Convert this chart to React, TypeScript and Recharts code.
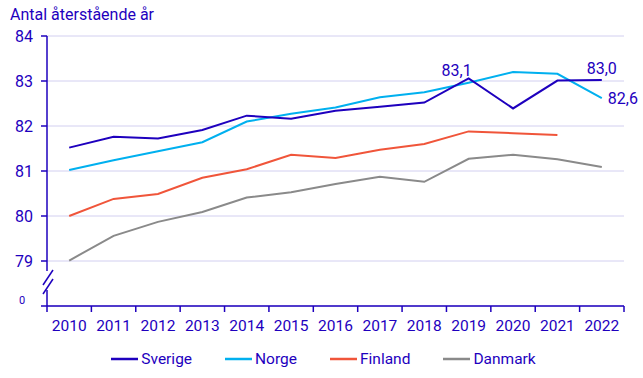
import React from "react";
import { LineChart, Line, XAxis, YAxis, CartesianGrid, Legend } from "recharts";

const years = [2010, 2011, 2012, 2013, 2014, 2015, 2016, 2017, 2018, 2019, 2020, 2021, 2022];
const sverige = [81.52, 81.76, 81.72, 81.91, 82.23, 82.16, 82.34, 82.43, 82.52, 83.06, 82.39, 83.01, 83.02];
const norge = [81.02, 81.24, 81.44, 81.64, 82.1, 82.27, 82.41, 82.64, 82.75, 82.96, 83.2, 83.16, 82.62];
const finland = [80.0, 80.38, 80.49, 80.85, 81.04, 81.36, 81.29, 81.47, 81.6, 81.88, 81.84, 81.8, null];
const danmark = [79.01, 79.56, 79.87, 80.09, 80.41, 80.53, 80.71, 80.87, 80.76, 81.27, 81.36, 81.26, 81.09];
const yTicks = [78, 79, 80, 81, 82, 83, 84];
const yTickLabels = ["0", "79", "80", "81", "82", "83", "84"];

// which points get a value label
const sverigeLabelYears = [2019, 2022];
const norgeLabelYears = [2022];

const TEXT = "#1e00be";
const FONT = "Roboto, sans-serif";

const series = [
  { key: "Sverige", color: "#1e00be" },
  { key: "Norge", color: "#00b0ef" },
  { key: "Finland", color: "#f0553a" },
  { key: "Danmark", color: "#8a8a8a" },
];

const data = years.map((year, i) => ({
  year,
  Sverige: sverige[i],
  Norge: norge[i],
  Finland: finland[i],
  Danmark: danmark[i],
}));

// ticks at band edges (tick marks) and band centres (labels)
const xTicks = years.flatMap((y) => [y - 0.5, y]).concat(years[years.length - 1] + 0.5);

const fmt = (v: number) => v.toFixed(1).replace(".", ",");

const XTick = (props: any) => {
  const { x, y, payload } = props;
  const v = payload.value;
  if (Number.isInteger(v)) {
    return (
      <text x={x} y={y} dy="0.71em" textAnchor="middle" fill={TEXT} fontSize={15.5} fontFamily={FONT}>
        {v}
      </text>
    );
  }
  return <line x1={x} x2={x} y1={y - 14} y2={y - 8} stroke={TEXT} strokeWidth={1.5} />;
};

const YTick = (props: any) => {
  const { x, y, payload } = props;
  const i = yTicks.indexOf(payload.value);
  if (i === 0) {
    const ax = x + 14;
    return (
      <g>
        <text x={x - 11} y={y - 6} dy="0.35em" textAnchor="middle" fill={TEXT} fontSize={11} fontFamily={FONT}>
          {yTickLabels[i]}
        </text>
        <rect x={ax - 2} y={y - 35} width={4} height={19} fill="#fff" />
        <line x1={ax - 4} y1={y - 21} x2={ax + 6} y2={y - 36} stroke={TEXT} strokeWidth={1.5} />
        <line x1={ax - 4} y1={y - 12} x2={ax + 6} y2={y - 27} stroke={TEXT} strokeWidth={1.5} />
      </g>
    );
  }
  return (
    <text x={x} y={y} dy="0.35em" textAnchor="end" fill={TEXT} fontSize={16} fontFamily={FONT}>
      {yTickLabels[i]}
    </text>
  );
};

const makeLabel = (labelYears: number[], place: (yr: number) => string) => (props: any) => {
  const { x, y, value, index } = props;
  const yr = years[index];
  if (!labelYears.includes(yr) || value == null) return null;
  const p = place(yr);
  let tx = x;
  let ty = y - 12;
  let anchor: any = "middle";
  if (p === "left") {
    tx = x + 3;
    ty = y - 8;
    anchor = "end";
  } else if (p === "right") {
    tx = x + 6;
    ty = y;
    anchor = "start";
  }
  return (
    <text key={`l-${index}`} x={tx} y={ty} dy="0.35em" textAnchor={anchor} fill={TEXT} fontSize={16} fontFamily={FONT}>
      {fmt(value)}
    </text>
  );
};

const sverigeLabel = makeLabel(sverigeLabelYears, (yr) => (yr === 2019 ? "left" : "top"));
const norgeLabel = makeLabel(norgeLabelYears, () => "right");

const LegendContent = () => (
  <div style={{ display: "flex", justifyContent: "center", gap: 33, fontFamily: FONT }}>
    {series.map((s) => (
      <div key={s.key} style={{ display: "flex", alignItems: "center", lineHeight: "18px" }}>
        <svg width={27} height={4} style={{ marginRight: 3 }}>
          <line x1={0} x2={27} y1={2} y2={2} stroke={s.color} strokeWidth={2.5} />
        </svg>
        <span style={{ color: TEXT, fontSize: 15.5 }}>{s.key}</span>
      </div>
    ))}
  </div>
);

export default function App() {
  return (
    <div style={{ position: "absolute", left: 0, top: 0, width: 643, height: 378, background: "#fff" }}>
      <div
        style={{
          position: "absolute",
          left: 10,
          top: 6,
          fontFamily: FONT,
          fontSize: 16,
          lineHeight: "18px",
          color: TEXT,
          zIndex: 1,
        }}
      >
        Antal återstående år
      </div>
      <LineChart width={643} height={378} data={data} margin={{ top: 36, right: 19, left: 7, bottom: 42 }}>
        <CartesianGrid vertical={false} stroke="#d2cff0" />
        <XAxis
          dataKey="year"
          type="number"
          domain={[years[0] - 0.5, years[years.length - 1] + 0.5]}
          ticks={xTicks}
          interval={0}
          height={30}
          tickSize={6}
          tickMargin={8}
          tickLine={false}
          axisLine={{ stroke: TEXT, strokeWidth: 1.5 }}
          tick={<XTick />}
        />
        <YAxis
          type="number"
          domain={[78, 84]}
          ticks={yTicks}
          interval={0}
          width={40}
          tickSize={6}
          tickMargin={8}
          tickLine={{ stroke: TEXT, strokeWidth: 1.5 }}
          axisLine={{ stroke: TEXT, strokeWidth: 1.5 }}
          tick={<YTick />}
        />
        <Legend
          verticalAlign="middle"
          align="center"
          layout="horizontal"
          wrapperStyle={{ top: 350, left: 2, width: 643 }}
          content={<LegendContent />}
        />
        <Line dataKey="Danmark" stroke="#8a8a8a" strokeWidth={2} dot={false} isAnimationActive={false} />
        <Line dataKey="Finland" stroke="#f0553a" strokeWidth={2} dot={false} isAnimationActive={false} />
        <Line dataKey="Norge" stroke="#00b0ef" strokeWidth={2} dot={false} isAnimationActive={false} label={norgeLabel} />
        <Line dataKey="Sverige" stroke="#1e00be" strokeWidth={2} dot={false} isAnimationActive={false} label={sverigeLabel} />
      </LineChart>
    </div>
  );
}
